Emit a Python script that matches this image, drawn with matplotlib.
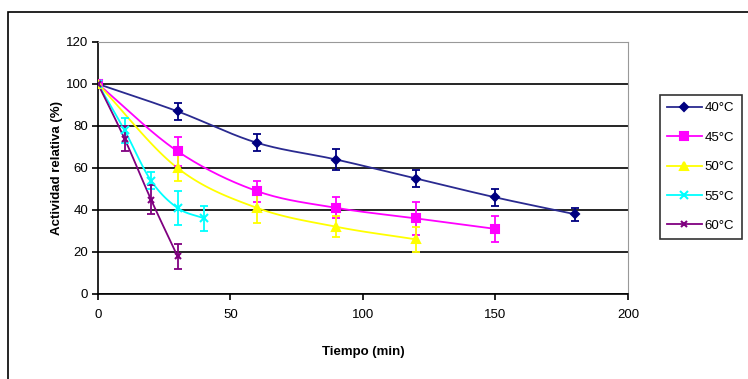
import numpy as np
import matplotlib.pyplot as plt
from matplotlib.patches import Rectangle

plt.rcParams['font.family'] = ['Liberation Sans', 'DejaVu Sans']

# Datos
t40 = [0, 30, 60, 90, 120, 150, 180]
a40 = [100, 87, 72, 64, 55, 46, 38]
e40 = [0, 4, 4, 5, 4, 4, 3]

t45 = [0, 30, 60, 90, 120, 150]
a45 = [100, 68, 49, 41, 36, 31]
e45 = [0, 7, 5, 5, 8, 6]

t50 = [0, 30, 60, 90, 120]
a50 = [100, 60, 41, 32, 26]
e50 = [0, 6, 7, 5, 6]

t55 = [0, 10, 20, 30, 40]
a55 = [100, 78, 54, 41, 36]
e55 = [0, 6, 4, 8, 6]

t60 = [0, 10, 20, 30]
a60 = [100, 74, 45, 18]
e60 = [0, 6, 7, 6]

etiquetas = ['40°C', '45°C', '50°C', '55°C', '60°C']
colores = ['#000080', '#FF00FF', '#FFFF00', '#00FFFF', '#800080']
lineas = ['#2a2a90', '#FF00FF', '#FFFF00', '#00FFFF', '#800080']
marcadores = ['D', 's', '^', 'x', 'x']
tam = [4.5, 5.5, 5.5, 5.5, 4.5]


def suavizar(x, y, n=30):
    # curva tipo Catmull-Rom como el suavizado de Excel
    x = np.asarray(x, float)
    y = np.asarray(y, float)
    px = np.concatenate([[2 * x[0] - x[1]], x, [2 * x[-1] - x[-2]]])
    py = np.concatenate([[2 * y[0] - y[1]], y, [2 * y[-1] - y[-2]]])
    xs, ys = [], []
    s = np.linspace(0, 1, n)
    for i in range(1, len(px) - 2):
        for p, out in ((px, xs), (py, ys)):
            p0, p1, p2, p3 = p[i - 1], p[i], p[i + 1], p[i + 2]
            out.extend(0.5 * ((2 * p1) + (-p0 + p2) * s
                              + (2 * p0 - 5 * p1 + 4 * p2 - p3) * s ** 2
                              + (-p0 + 3 * p1 - 3 * p2 + p3) * s ** 3))
    return np.array(xs), np.array(ys)


fig = plt.figure(figsize=(7.48, 3.79), dpi=100)
fig.patches.append(Rectangle((8 / 748, -0.1), 1.2, (379 - 12) / 379 + 0.1,
                             transform=fig.transFigure, fill=False,
                             edgecolor='black', linewidth=1.2))
ax = fig.add_axes([98 / 748, 85 / 379, 530 / 748, 252 / 379])

series = [(t40, a40, e40), (t45, a45, e45), (t50, a50, e50),
          (t55, a55, e55), (t60, a60, e60)]
handles = []
for i, (t, a, e) in enumerate(series):
    xs, ys = suavizar(t, a)
    ax.plot(xs, ys, color=lineas[i], linewidth=1.3, zorder=3)
    ax.errorbar(t, a, yerr=e, fmt='none', ecolor=colores[i], elinewidth=1.3,
                capsize=3, capthick=1.3, zorder=4)
    ax.plot(t, a, linestyle='none', marker=marcadores[i], markersize=tam[i],
            color=colores[i], markeredgewidth=1.5, zorder=5)
    h, = ax.plot([], [], color=lineas[i], linewidth=1.3, marker=marcadores[i],
                 markersize=tam[i], markerfacecolor=colores[i],
                 markeredgecolor=colores[i], markeredgewidth=1.5)
    handles.append(h)

ax.set_xlim(0, 200)
ax.set_ylim(0, 120)
ax.set_xticks([0, 50, 100, 150, 200])
ax.set_yticks([0, 20, 40, 60, 80, 100, 120])
ax.yaxis.grid(True, color='black', linewidth=1.2)
ax.set_axisbelow(True)
ax.spines['top'].set_color('#999999')
ax.spines['right'].set_color('#999999')
ax.spines['left'].set_linewidth(1.2)
ax.spines['bottom'].set_linewidth(1.2)
ax.tick_params(direction='out', length=4, width=1.2, labelsize=9.5, pad=3)
ax.tick_params(axis='x', pad=7)

ax.set_xlabel('Tiempo (min)', fontsize=9.5, fontweight='bold', labelpad=18)
ax.set_ylabel('Actividad relativa (%)', fontsize=9.5, fontweight='bold',
              labelpad=2)

leg = fig.legend(handles, etiquetas, loc='upper left',
                 bbox_to_anchor=(660 / 748, 1 - 95 / 379), fontsize=9.5,
                 frameon=True, fancybox=False, shadow=False, edgecolor='black',
                 handlelength=2.6, labelspacing=1.3, borderpad=0.55,
                 handletextpad=0.25, borderaxespad=0)
leg.get_frame().set_linewidth(1.2)

fig.savefig('out.png', dpi=100)
